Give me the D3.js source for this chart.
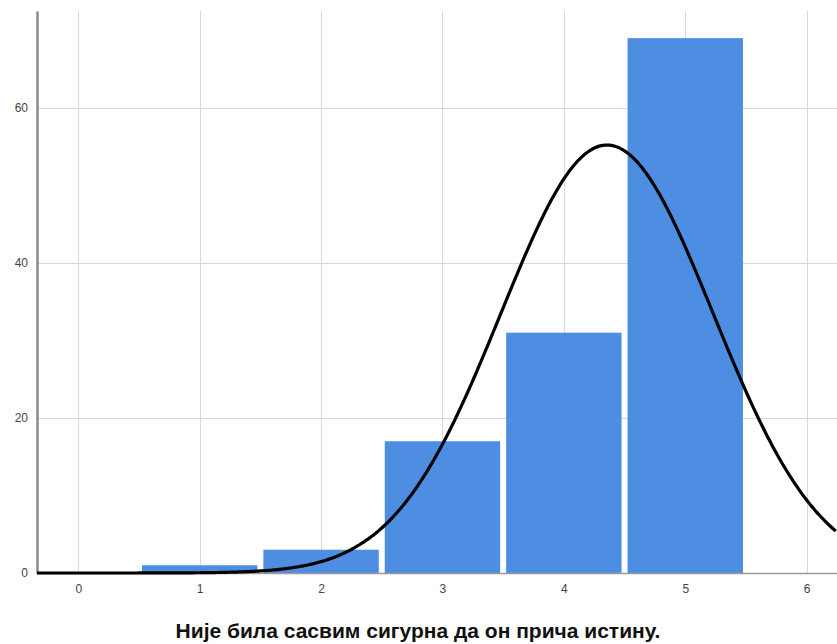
<!DOCTYPE html>
<html>
<head>
<meta charset="utf-8">
<script src="https://cdn.jsdelivr.net/npm/d3@7"></script>
<style>
  html, body { margin: 0; padding: 0; background: #fff; }
  svg { display: block; }
</style>
</head>
<body>
<svg id="chart" width="837" height="644"></svg>
<script>
// Response values and their frequencies
const categories = [1, 2, 3, 4, 5];
const counts = [1, 3, 17, 31, 69];
const xTicks = [0, 1, 2, 3, 4, 5, 6];
const yTicks = [0, 20, 40, 60];
const xTitle = "Није била сасвим сигурна да он прича истину.";

const svg = d3.select("#chart");
const plotLeft = 37, plotRight = 837, plotTop = 11, plotBottom = 573;

const x = d3.scaleLinear().domain([-0.34, 6.25]).range([plotLeft, plotRight]);
const y = d3.scaleLinear().domain([0, 72.5]).range([plotBottom, plotTop]);

// Grid
const grid = svg.append("g").attr("stroke", "#d9d9d9").attr("stroke-width", 1);
grid.selectAll("line.v").data(xTicks).join("line")
  .attr("x1", d => Math.round(x(d)) + 0.5).attr("x2", d => Math.round(x(d)) + 0.5)
  .attr("y1", plotTop).attr("y2", plotBottom);
grid.selectAll("line.h").data(yTicks.filter(d => d > 0)).join("line")
  .attr("x1", plotLeft).attr("x2", plotRight)
  .attr("y1", d => Math.round(y(d)) + 0.5).attr("y2", d => Math.round(y(d)) + 0.5);

// Histogram bars (bin width 1, centred on each value)
const inset = 3;
svg.append("g").selectAll("rect").data(categories).join("rect")
  .attr("x", (d) => x(d - 0.5) + inset)
  .attr("width", (d) => x(d + 0.5) - x(d - 0.5) - 2 * inset)
  .attr("y", (d, i) => y(counts[i]))
  .attr("height", (d, i) => y(0) - y(counts[i]))
  .attr("fill", "#4d8ee2");

// Axes
const xAxis = d3.axisBottom(x).tickValues(xTicks).tickFormat(d3.format("d")).tickSize(0).tickPadding(11);
const gx = svg.append("g").attr("transform", `translate(0,${plotBottom})`).call(xAxis);
gx.select(".domain").attr("stroke", "#9a9a9a").attr("stroke-width", 1.5);
gx.selectAll("text").attr("font-family", "Liberation Sans, Arial, sans-serif")
  .attr("font-size", 12).attr("fill", "#444");

const yAxis = d3.axisLeft(y).tickValues(yTicks).tickFormat(d3.format("d")).tickSize(0).tickPadding(9);
const gy = svg.append("g").attr("transform", `translate(${plotLeft},0)`).call(yAxis);
gy.select(".domain").attr("stroke", "#8a8a8a").attr("stroke-width", 2.5);
gy.selectAll("text").attr("font-family", "Liberation Sans, Arial, sans-serif")
  .attr("font-size", 12).attr("fill", "#444");

// Fitted normal curve scaled to the frequencies
const n = d3.sum(counts);
const mean = d3.sum(categories, (c, i) => c * counts[i]) / n;
const variance = d3.sum(categories, (c, i) => counts[i] * (c - mean) ** 2) / (n - 1);
const sd = Math.sqrt(variance);
const density = v => n / (sd * Math.sqrt(2 * Math.PI)) * Math.exp(-0.5 * ((v - mean) / sd) ** 2);
const xs = d3.range(-0.34, 6.26, 0.02);
svg.append("path")
  .datum(xs)
  .attr("fill", "none")
  .attr("stroke", "#000")
  .attr("stroke-width", 3.2)
  .attr("d", d3.line().x(v => x(v)).y(v => y(density(v))).curve(d3.curveBasis));

// Axis title
svg.append("text")
  .attr("x", 418).attr("y", 638)
  .attr("text-anchor", "middle")
  .attr("font-family", "Liberation Sans, Arial, sans-serif")
  .attr("font-weight", "bold")
  .attr("font-size", 21)
  .attr("fill", "#111")
  .text(xTitle);
</script>
</body>
</html>
